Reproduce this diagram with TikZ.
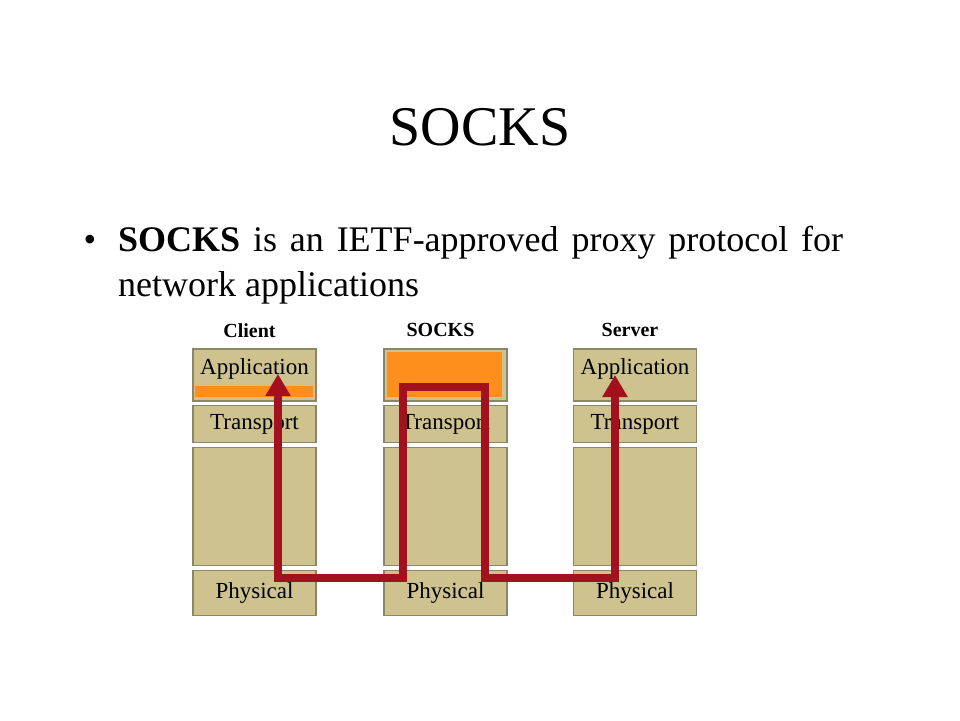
\documentclass[tikz,border=0pt]{standalone}
\usepackage{fontspec}
\setmainfont{Liberation Serif}
\usetikzlibrary{positioning,arrows.meta}
\definecolor{tanfill}{RGB}{206,194,142}
\definecolor{tanedge}{RGB}{138,134,104}
\definecolor{socksorange}{RGB}{255,143,28}
\definecolor{routered}{RGB}{163,16,30}
\tikzset{
    layer/.style={rectangle,fill=tanfill,draw=tanedge,line width=1.2pt,minimum width=123pt,inner sep=0,font=\fontsize{23}{23}\selectfont},
    bar/.style={rectangle,fill=socksorange,inner sep=0},
    head/.style={font=\fontsize{20}{20}\selectfont\bfseries},
    route/.style={draw=routered,line width=8pt,line join=miter,{Triangle[width=24pt,length=22pt]}-{Triangle[width=24pt,length=22pt]}}
}
\begin{document}
\begin{tikzpicture}[x=1pt,y=-1pt,node distance=3.5pt]
    \useasboundingbox (0,0) rectangle (960,720);
    \node[font=\fontsize{56}{56}\selectfont] (title) at (480,127) {SOCKS};
    \node[font=\fontsize{36}{36}\selectfont] (dot) at (90,243) {•};
    \node[font=\fontsize{36}{45}\selectfont,text width=725pt,align=justify,inner sep=0,anchor=north west] (body) at (118,226)
        {\textbf{SOCKS} is an IETF-approved proxy protocol for network applications};
    % protocol stacks
    \foreach \col/\x/\name/\app in {c/254.5/Client/Application, s/445.5/SOCKS/, v/635/Server/Application}{
        \node[layer,minimum height=52pt] (\col app) at (\x,375) {};
        \node[layer,minimum height=37pt,below=of \col app] (\col tra) {Transport};
        \node[layer,minimum height=118pt,below=of \col tra] (\col mid) {};
        \node[layer,minimum height=45pt,below=of \col mid] (\col phy) {Physical};
        \node[head] (\col head) at ([xshift=-5pt,yshift=18pt]\col app.north) {\name};
        \node[font=\fontsize{23}{23}\selectfont] (\col apptxt) at ([yshift=-21pt]\col app.north) {\app};
    }
    \node[bar,minimum width=118pt,minimum height=11pt] (cbar) at (254,391.5) {};
    \node[bar,minimum width=115pt,minimum height=45pt] (sbar) at (444.5,374.5) {};
    % route through the proxy
    \coordinate (ctip) at (278,374);
    \coordinate (cbot) at (278,578);
    \coordinate (stl) at (403,387);
    \coordinate (str) at (485,387);
    \coordinate (sbr) at (485,578);
    \coordinate (vtip) at (615,375);
    \draw[route] (ctip) -- (cbot) -| (stl) -- (str) -- (sbr) -| (vtip);
\end{tikzpicture}
\end{document}
